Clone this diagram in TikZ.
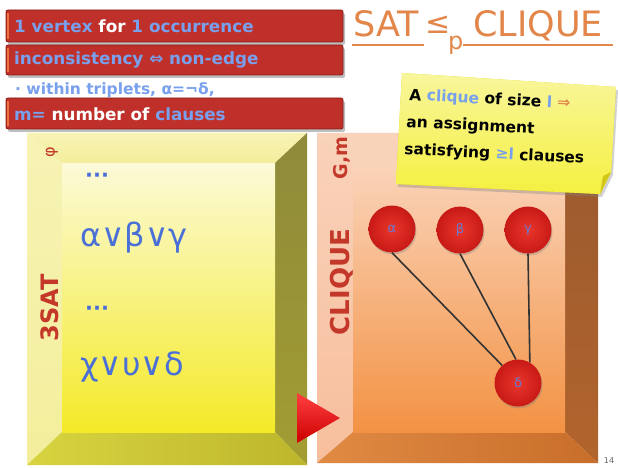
\documentclass[tikz,border=0pt]{standalone}
\usepackage{fontspec}
\setmainfont{DejaVu Sans}
\usetikzlibrary{shadows}
\definecolor{barred}{HTML}{C0302A}
\definecolor{bardark}{HTML}{8A1C16}
\definecolor{barlite}{HTML}{E8743C}
\definecolor{lblue}{HTML}{78A0EC}
\definecolor{dblue}{HTML}{4A70D8}
\definecolor{titleor}{HTML}{E2864A}
\definecolor{labred}{HTML}{C4382A}
\definecolor{vin}{HTML}{E8362C}
\definecolor{vout}{HTML}{C81A16}
\definecolor{vlab}{HTML}{6A78D0}
\definecolor{ytopb}{HTML}{F7F3B4}
\definecolor{ytopc}{HTML}{F3EE9C}
\definecolor{yrighta}{HTML}{8E8A3A}
\definecolor{yrightb}{HTML}{A39D32}
\definecolor{ybota}{HTML}{D8D440}
\definecolor{ybotb}{HTML}{BDB62C}
\definecolor{yina}{HTML}{FCFAD8}
\definecolor{yinb}{HTML}{F4EA28}
\definecolor{otopb}{HTML}{F9D2BA}
\definecolor{oleft}{HTML}{F7BE9C}
\definecolor{orighta}{HTML}{9A5A30}
\definecolor{orightb}{HTML}{B2642C}
\definecolor{obota}{HTML}{E08A44}
\definecolor{obotb}{HTML}{C86E2A}
\definecolor{oina}{HTML}{FAD4BA}
\definecolor{oinb}{HTML}{F39244}
\definecolor{notea}{HTML}{F8F69C}
\definecolor{noteb}{HTML}{F5F040}
\begin{document}
\begin{tikzpicture}[x=1pt,y=-1pt,
  bar/.style={fill=barred, draw=bardark, line width=0.8pt, rounded corners=2pt},
  barshadow/.style={fill=black, opacity=0.25, rounded corners=2pt},
  bartext/.style={anchor=west, inner sep=0pt, font=\bfseries\fontsize{16.8}{18}\selectfont},
  boxtext/.style={anchor=west, inner sep=0pt, text=dblue, font=\fontsize{32}{34}\selectfont},
  dots/.style={anchor=west, inner sep=0pt, text=dblue, font=\bfseries\fontsize{21}{23}\selectfont},
  sidelabel/.style={rotate=90, inner sep=0pt, text=labred, font=\bfseries\fontsize{24}{26}\selectfont},
  notetext/.style={anchor=base west, inner sep=0pt, rotate=-3, font=\bfseries\fontsize{15.5}{18}\selectfont},
  vert/.style={circle, minimum size=47pt, inner sep=0pt, shading=radial, inner color=vin, outer color=vout,
    font=\fontsize{13}{14}\selectfont, text=vlab,
    drop shadow={opacity=0.35, shadow xshift=1pt, shadow yshift=-2pt}},
  edge/.style={line width=1.6pt, draw=black!80},
  titletext/.style={anchor=base west, inner sep=0pt, text=titleor, font=\fontsize{35}{38}\selectfont}
]
\useasboundingbox (0,0) rectangle (618,468);
\fill[white] (0,0) rectangle (618,468);

% ---------------- yellow bevel box ----------------
\shade[top color=ytopb, bottom color=ytopc] (27,133) -- (307,133) -- (275,163) -- (62,163) -- cycle;
\shade[top color=ytopb, bottom color=ytopc] (27,133) -- (62,163) -- (62,432) -- (27,465) -- cycle;
\shade[top color=yrighta, bottom color=yrightb] (307,133) -- (307,465) -- (275,432) -- (275,163) -- cycle;
\shade[left color=ybota, right color=ybotb] (27,465) -- (62,432) -- (275,432) -- (307,465) -- cycle;
\shade[top color=yina, bottom color=yinb] (62,163) rectangle (275,432);

% ---------------- orange bevel box ----------------
\shade[top color=otopb, bottom color=otopb] (317,133) -- (598,133) -- (565,163) -- (353,163) -- cycle;
\shade[top color=otopb, bottom color=oleft] (317,133) -- (353,163) -- (353,432) -- (317,463) -- cycle;
\shade[top color=orighta, bottom color=orightb] (598,133) -- (598,463) -- (565,432) -- (565,163) -- cycle;
\shade[left color=obota, right color=obotb] (317,463) -- (353,432) -- (565,432) -- (598,463) -- cycle;
\shade[top color=oina, bottom color=oinb] (353,163) rectangle (565,432);

% ---------------- red triangle ----------------
\shade[top color=red!75!white, bottom color=red!80!black] (297,393) -- (340,418) -- (297,443) -- cycle;

% ---------------- texts in boxes ----------------
\node[dots] (d1) at (85,178) {···};
\node[boxtext] (c1) at (80,238) {α∨β∨γ};
\node[dots] (d2) at (85,311) {···};
\node[boxtext] (c2) at (80,367) {χ∨υ∨δ};

\node[sidelabel, font=\fontsize{16}{18}\selectfont] (phi) at (52,152) {φ};
\node[sidelabel] (sat3) at (50,308) {3SAT};
\node[sidelabel, font=\bfseries\fontsize{26}{28}\selectfont] (cl) at (342,282) {CLIQUE};
\node[sidelabel, font=\bfseries\fontsize{19}{20}\selectfont] (gm) at (342,158) {G,m};

% ---------------- graph ----------------
\node[vert] (a) at (392,229) {α};
\node[vert] (b) at (460,230) {β};
\node[vert] (g) at (528,230) {γ};
\node[vert] (d) at (518,383) {δ};
\draw[edge] (a.south) -- (d.132);
\draw[edge] (b.south) -- (d.95);
\draw[edge] (g.south) -- (d.60);

% ---------------- red bars ----------------
\fill[barshadow] (8,13) rectangle (345,45);
\draw[bar] (6,10) rectangle (343,42);
\fill[barlite] (6.5,13) rectangle (8.5,39);
\node[bartext] (t1) at (14,26) {\textcolor{lblue}{1 vertex} \textcolor{white}{for} \textcolor{lblue}{1 occurrence}};
\fill[barshadow] (8,48) rectangle (345,78);
\draw[bar] (6,45) rectangle (343,75);
\fill[barlite] (6.5,48) rectangle (8.5,72);
\node[bartext, text=lblue] (t2) at (14,60) {inconsistency ⇔ non-edge};
\node[bartext, text=lblue, font=\bfseries\fontsize{15.5}{17}\selectfont] (t3) at (15,90) {· within triplets, α=¬δ,};
\fill[barshadow] (8,101) rectangle (345,132);
\draw[bar] (6,98) rectangle (343,129);
\fill[barlite] (6.5,101) rectangle (8.5,126);
\node[bartext] (t4) at (14,114) {\textcolor{lblue}{m=} \textcolor{white}{number of} \textcolor{lblue}{clauses}};

% ---------------- title ----------------
\node[titletext] (sat) at (353,37) {SAT};
\node[titletext, font=\fontsize{30}{32}\selectfont] (le) at (425,34) {≤};
\node[titletext, font=\fontsize{24}{26}\selectfont] (p) at (448,50) {p};
\node[titletext] (cq) at (473,37) {CLIQUE};
\draw[titleor, line width=1.8pt] (352,45) -- (424,45);
\draw[titleor, line width=1.8pt] (463,45) -- (613,45);

% ---------------- sticky note ----------------
\fill[yellow!70!olive, drop shadow={opacity=0.35, shadow xshift=2pt, shadow yshift=-3pt}]
  (402,73) -- (616,87) -- (611,172) -- (600,194) -- (396,184) -- cycle;
\shade[top color=notea, bottom color=noteb]
  (402,73) -- (616,87) -- (611,172) -- (600,194) -- (396,184) -- cycle;
\fill[yellow!55!olive!90!white] (611,172) -- (600,194) -- (603,176) -- cycle;
\node[notetext] (n1) at (409,100) {A \textcolor{lblue}{clique} of size \textcolor{lblue}{l} \textcolor{titleor}{⇒}};
\node[notetext] (n2) at (406,127) {an assignment};
\node[notetext] (n3) at (404,154) {satisfying \textcolor{lblue}{≥l} clauses};

% ---------------- page number ----------------
\node[inner sep=0pt, text=black!60, font=\fontsize{8}{9}\selectfont] (pg) at (609,461) {14};
\end{tikzpicture}
\end{document}
